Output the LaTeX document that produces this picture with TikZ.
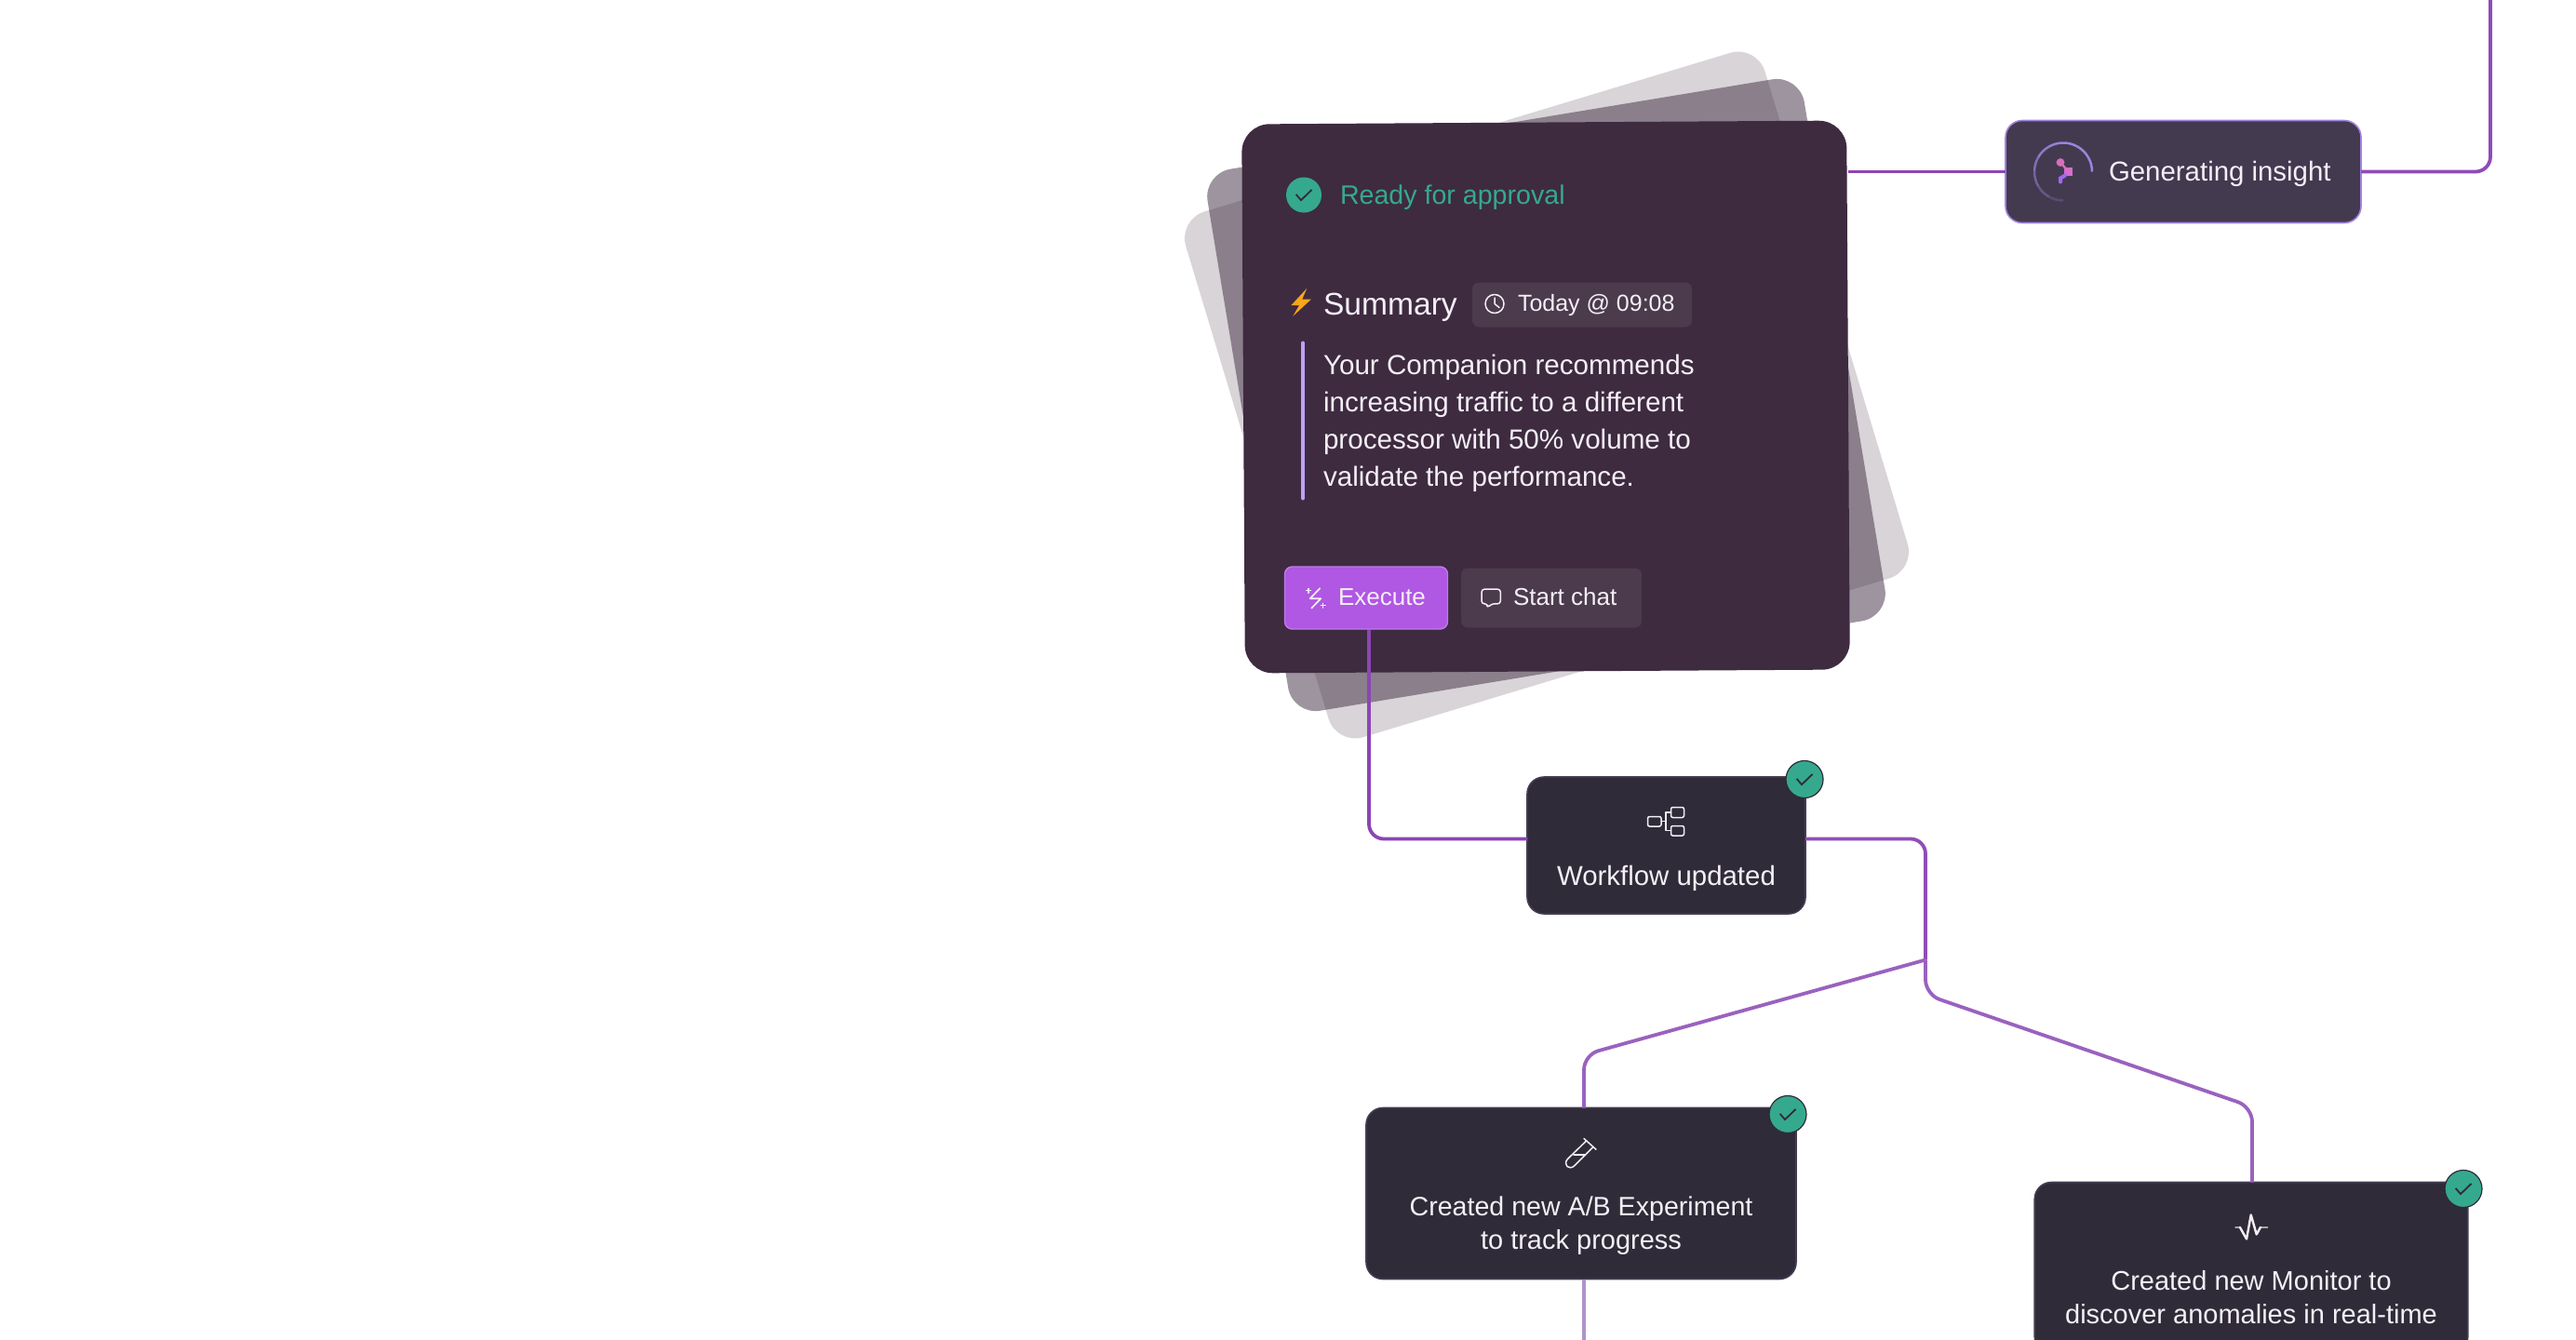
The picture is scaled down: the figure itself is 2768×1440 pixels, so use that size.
\documentclass[tikz,border=0pt]{standalone}
\usepackage{xcolor}
\usepackage{fontspec}
\setmainfont{Liberation Sans}
\usetikzlibrary{arrows.meta,positioning}

\definecolor{plum}{HTML}{3E2B40}
\definecolor{slate}{HTML}{2F2B38}
\definecolor{edge}{HTML}{453C52}
\definecolor{mint}{HTML}{35A98D}
\definecolor{wirea}{HTML}{8C45B5}
\definecolor{wireb}{HTML}{9A62BF}
\definecolor{wirec}{HTML}{AE93CB}
\definecolor{paper}{HTML}{F4EFF6}
\definecolor{lilac}{HTML}{BFA0F5}
\definecolor{orchid}{HTML}{B057E3}
\definecolor{orchidrim}{HTML}{C07BEB}
\definecolor{dusk}{HTML}{433A50}
\definecolor{rimglow}{HTML}{A183E0}
\definecolor{ringline}{HTML}{9A85DD}
\definecolor{logoa}{HTML}{D86EB8}
\definecolor{logob}{HTML}{D66EC8}
\definecolor{logoc}{HTML}{A069F0}
\definecolor{flash}{HTML}{F8A51C}

\begin{document}
\begin{tikzpicture}[
  x=0.5pt, y=-0.5pt,
  every node/.style={font=\fontsize{14.5}{18}\selectfont, text=paper, inner sep=0pt, outer sep=0pt},
  sheet/.style={rectangle, rounded corners=15pt, fill=plum, minimum width=325pt, minimum height=295pt},
  task/.style={rectangle, rounded corners=9pt, draw=edge, line width=0.8pt, fill=slate,
               align=center, minimum width=#1},
  chip/.style={rectangle, rounded corners=3.5pt, fill=white!7!plum},
  badge/.style={circle, draw=slate, line width=0.6pt, fill=mint, minimum size=20pt},
  tick/.style={draw=slate, line width=0.9pt},
  wire/.style={line width=1.9pt, rounded corners=8pt},
  glyph/.style={draw=paper, line width=0.75pt, line join=round, line cap=round},
  bodytxt/.style={anchor=base west, font=\fontsize{14.8}{18}\selectfont},
  btntxt/.style={anchor=base west, font=\fontsize{13}{16}\selectfont}
]
\path[use as bounding box, fill=white] (0,-1.5) rectangle (2768,1438.5);
\clip (0,-1.5) rectangle (2768,1438.5);

% stacked sheets
\node[sheet, rotate=16.8, fill opacity=0.2] (back)  at (1662,423) {};
\node[sheet, rotate=9.4,  fill opacity=0.5] (mid)   at (1661.5,423) {};
\node[sheet, rotate=0.35]                   (main)  at (1661,425) {};

% approval card
\node[badge, draw=none, minimum size=19pt] (ready) at (1401,208) {};
\node[anchor=base west, text=mint, font=\fontsize{14.3}{18}\selectfont] (readytxt) at (1440,218) {Ready for approval};
\node[anchor=base west, font=\fontsize{16.8}{20}\selectfont] (summary) at (1422,337) {Summary};
\node[chip, minimum width=118pt, minimum height=24pt] (when) at (1700,326) {};
\node[anchor=base west, font=\fontsize{12.5}{16}\selectfont] (whentxt) at (1631,333) {Today @ 09:08};
\draw[line width=2pt, draw=lilac, line cap=round] (1400,367) -- (1400,534);
\node[bodytxt] (line1) at (1422,401) {Your Companion recommends};
\node[bodytxt] (line2) at (1422,441) {increasing traffic to a different};
\node[bodytxt] (line3) at (1422,481) {processor with 50\% volume to};
\node[bodytxt] (line4) at (1422,521) {validate the performance.};
\node[chip, minimum width=97pt, minimum height=32pt] (chat) at (1667,641) {};
\node[btntxt] (chattxt) at (1626,649) {Start chat};

% flash
\fill[flash] (1404.3,308.3) -- (1387.3,326.7) -- (1396,326.7) -- (1389.3,338.3) -- (1409,320) -- (1399.3,320) -- cycle;
% clock
\draw[glyph] (1606,325) circle[radius=5pt];
\draw[glyph] (1606,318.5) -- (1606,325) -- (1611,329);

% task boxes
\node[task=191pt, draw=rimglow, fill=dusk, minimum height=55pt] (insight) at (2346,183) {};
\node[task=149.5pt, minimum height=73.5pt] (wflow) at (1790.5,907) {};
\node[task=231pt, minimum height=92pt] (abtest) at (1699,1281) {};
\node[task=232.75pt, minimum height=92pt] (monitor) at (2419,1361) {};

% connectors
\coordinate (topend) at (2676,-6);
\coordinate (execout) at (1471,675);
\coordinate (wfin) at (1641,900);
\coordinate (wfout) at (1940,900);
\coordinate (forkin) at (2069,1030);
\coordinate (abin) at (1702,1189);
\coordinate (about) at (1702,1373);
\coordinate (abend) at (1702,1446);
\coordinate (monin) at (2420,1269);

\draw[wire, wirea] (main.east |- insight.west) -- (insight.west);
\draw[wire, wirea!80!wireb] (insight.east) -- (2676,183) -- (topend);
\draw[wire, wirea] (execout) -- (1471,900) -- (wfin);
\draw[wire, wirea!70!wireb] (wfout) -- (2069,900) -- (forkin);
\draw[wire, wireb] (forkin) -- (2069,1067.3) -- (2420,1188) -- (monin);
\draw[wire, wireb] (forkin) -- (1702,1132) -- (abin);
\draw[wire, wirec] (about) -- (abend);

% buttons
\node[rectangle, rounded corners=4pt, draw=orchidrim, line width=0.7pt, fill=orchid,
      minimum width=87.5pt, minimum height=33.5pt] (exec) at (1468,641) {};
\node[btntxt] (exectxt) at (1438,649) {Execute};

% generating insight
\node[anchor=base west, font=\fontsize{14.7}{18}\selectfont] (insighttxt) at (2266,193) {Generating insight};
\node[circle, minimum size=31pt] (ring) at (2217,183) {};
\foreach \a/\o in {0/1, 30/1, 60/1, 90/.95, 120/.85, 150/.7, 180/.55, 210/.4, 240/.25}
  \draw[draw=ringline, draw opacity=\o, line width=1.25pt]
    ([shift={(\a:15.5pt)}]ring.center) arc[start angle=\a, end angle=\a+30, radius=15.5pt];
\fill[logoa] (2214,173) circle[radius=2.2pt];
\draw[logoa, line width=1.2pt] (2214,173) -- (2220,180);
\fill[logob] (2218,178) rectangle (2227,187);
\draw[logoc, line width=2pt, line cap=round] (2214,194) -- (2214,190) -- (2219,187);

% workflow updated
\node[anchor=base, font=\fontsize{14.7}{18}\selectfont] (wflowtxt) at (1790.5,950) {Workflow updated};
\draw[glyph, rounded corners=1pt] (1770.5,876) rectangle (1785,886.5);
\draw[glyph, rounded corners=1pt] (1795.5,866) rectangle (1809.5,877);
\draw[glyph, rounded corners=1pt] (1795.5,886) rectangle (1809.5,896.5);
\draw[glyph] (1795.5,871.5) -- (1790,871.5) -- (1790,891) -- (1795.5,891);
\draw[glyph] (1785,881) -- (1790,881);

% experiment
\node[anchor=base, font=\fontsize{14.3}{18}\selectfont] (abtxt1) at (1699,1305) {Created new A/B Experiment};
\node[anchor=base] (abtxt2) at (1699,1341) {to track progress};
\draw[glyph] (1702,1222) -- (1715,1233.7);
\draw[glyph] (1704,1225) -- (1684.4,1244) .. controls (1679,1250) and (1686,1257) .. (1692,1251) -- (1712,1231);
\draw[glyph] (1691,1239.6) -- (1703.6,1239.6);

% monitor
\node[anchor=base] (montxt1) at (2419,1385) {Created new Monitor to};
\node[anchor=base] (montxt2) at (2419,1421) {discover anomalies in real-time};
\draw[glyph, gray!70!white] (2402,1317.3) -- (2407,1317.3);
\draw[glyph, gray!70!white] (2429,1317.3) -- (2436.6,1317.3);
\draw[glyph, line width=1.2pt] (2406.8,1317.3) -- (2414,1330) -- (2418.7,1304) -- (2424.7,1325) -- (2429,1317.3);

% execute and chat marks
\draw[glyph, line width=0.85pt] (1418.3,630.7) -- (1407.7,641.7) -- (1419.3,641.7) -- (1409.3,652);
\draw[glyph, line width=0.6pt] (1403.5,633.3) -- (1408.5,633.3) (1406,630.8) -- (1406,635.8);
\draw[glyph, line width=0.6pt] (1419.2,649.3) -- (1424.2,649.3) (1421.7,646.8) -- (1421.7,651.8);
\draw[glyph, rounded corners=1.5pt] (1592,631.7) -- (1612.3,631.7) -- (1612.3,647.3) -- (1603,647.3) -- (1598.3,651.7) -- (1598.3,647.3) -- (1592,647.3) -- cycle;

% status dots
\node[badge] (okflow) at (1939,836) {};
\node[badge] (okab)   at (1921,1196) {};
\node[badge] (okmon)  at (2647,1276) {};
\foreach \b in {ready, okflow, okab, okmon}
  \draw[tick] ([shift={(-4.2pt,0.3pt)}]\b.center) -- ++(2.7pt,-3.1pt) -- ++(5.8pt,5.6pt);
\end{tikzpicture}
\end{document}
